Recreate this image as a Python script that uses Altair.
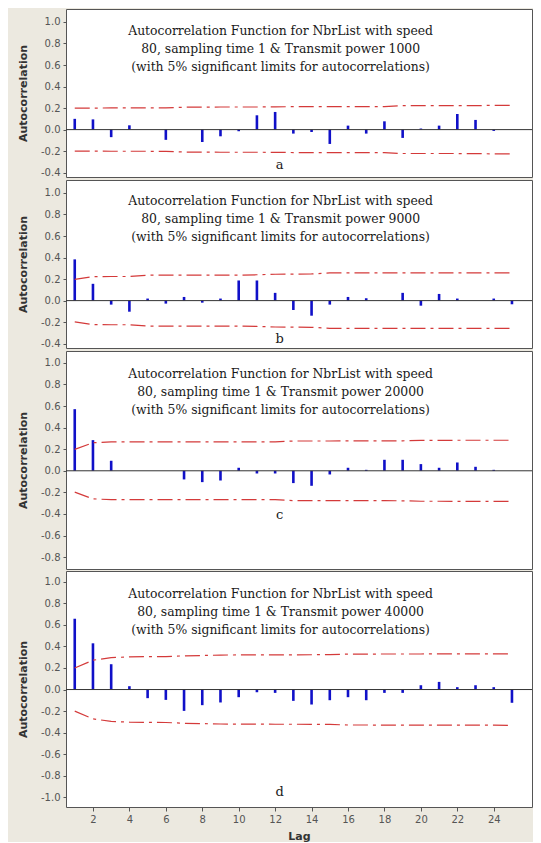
import altair as alt
import pandas as pd

# ---------------- data ----------------
lags = list(range(1, 26))

acf_a = [0.100, 0.095, -0.070, 0.040, 0.000, -0.095, 0.000, -0.115, -0.062, -0.015,
         0.133, 0.164, -0.037, -0.022, -0.133, 0.037, -0.037, 0.077, -0.077, 0.010,
         0.037, 0.145, 0.090, -0.012, 0.000]
acf_b = [0.383, 0.156, -0.037, -0.103, 0.019, -0.028, 0.034, -0.019, 0.019, 0.187,
         0.187, 0.072, -0.087, -0.140, -0.037, 0.034, 0.022, 0.000, 0.072, -0.047,
         0.062, 0.019, 0.000, 0.019, -0.034]
acf_c = [0.571, 0.284, 0.093, 0.000, 0.000, 0.000, -0.080, -0.105, -0.090, 0.028,
         -0.025, -0.025, -0.114, -0.139, -0.034, 0.028, 0.009, 0.102, 0.102, 0.062,
         0.028, 0.077, 0.037, 0.009, 0.000]
acf_d = [0.657, 0.429, 0.235, 0.031, -0.080, -0.096, -0.198, -0.145, -0.120, -0.071,
         -0.025, -0.031, -0.105, -0.139, -0.099, -0.071, -0.099, -0.031, -0.031, 0.040,
         0.071, 0.022, 0.040, 0.022, -0.123]

# 5% significance limits (upper; lower is the mirror image)
lim_a = [0.200, 0.200, 0.201, 0.201, 0.201, 0.202, 0.208, 0.209, 0.210, 0.210,
         0.210, 0.211, 0.213, 0.213, 0.213, 0.214, 0.214, 0.214, 0.222, 0.222,
         0.222, 0.222, 0.223, 0.225, 0.225]
lim_b = [0.198, 0.222, 0.224, 0.224, 0.236, 0.236, 0.236, 0.236, 0.236, 0.236,
         0.240, 0.245, 0.246, 0.248, 0.257, 0.257, 0.257, 0.257, 0.257, 0.258,
         0.258, 0.258, 0.258, 0.258, 0.258]
lim_c = [0.198, 0.260, 0.268, 0.268, 0.268, 0.268, 0.268, 0.268, 0.268, 0.268,
         0.268, 0.268, 0.276, 0.276, 0.276, 0.277, 0.277, 0.277, 0.278, 0.282,
         0.282, 0.283, 0.283, 0.283, 0.283]
lim_d = [0.200, 0.272, 0.296, 0.303, 0.305, 0.306, 0.313, 0.316, 0.320, 0.321,
         0.321, 0.322, 0.322, 0.323, 0.324, 0.329, 0.329, 0.330, 0.330, 0.330,
         0.331, 0.331, 0.331, 0.331, 0.332]

powers = ["1000", "9000", "20000", "40000"]
letters = ["a", "b", "c", "d"]

ticks_a = [-0.4, -0.2, 0.0, 0.2, 0.4, 0.6, 0.8, 1.0]
ticks_c = [-0.8, -0.6, -0.4, -0.2, 0.0, 0.2, 0.4, 0.6, 0.8, 1.0]
ticks_d = [-1.0, -0.8, -0.6, -0.4, -0.2, 0.0, 0.2, 0.4, 0.6, 0.8, 1.0]
x_ticks = [2, 4, 6, 8, 10, 12, 14, 16, 18, 20, 22, 24]

# ---------------- styling ----------------
SANS = "DejaVu Sans"
SERIF = "DejaVu Serif"
BLUE = "#1010c8"
RED = "#d43a3a"
BG = "#ece9e0"

panels = [
    dict(acf=acf_a, lim=lim_a, dom=[-0.44, 1.12], h=168, ticks=ticks_a, ty=0.92, ly=-0.33),
    dict(acf=acf_b, lim=lim_b, dom=[-0.44, 1.12], h=168, ticks=ticks_a, ty=0.925, ly=-0.36),
    dict(acf=acf_c, lim=lim_c, dom=[-0.91, 1.11], h=218, ticks=ticks_c, ty=0.90, ly=-0.41),
    dict(acf=acf_d, lim=lim_d, dom=[-1.09, 1.10], h=236, ticks=ticks_d, ty=0.885, ly=-0.95),
]


def make_panel(i, p, bottom):
    df = pd.DataFrame({
        "lag": lags,
        "acf": p["acf"],
        "upper": p["lim"],
        "lower": [-v for v in p["lim"]],
    })
    one = pd.DataFrame({"k": [0]})
    xs = alt.Scale(domain=[0.52, 26.1], nice=False, zero=False)
    ys = alt.Scale(domain=p["dom"], nice=False, zero=False)
    if bottom:
        x_axis = alt.Axis(values=x_ticks, title="Lag", tickSize=4, labelPadding=3,
                          titlePadding=6, titleFontWeight="bold", titleFontSize=11,
                          labelOverlap=False, labelFlush=False, tickCount=12)
    else:
        x_axis = None
    y_axis = alt.Axis(values=p["ticks"], tickCount=len(p["ticks"]),
                      title="Autocorrelation", format=".1f",
                      labelOverlap=False, labelFlush=False, labelBound=False,
                      labelExpr="replace(datum.label, '\u2212', '-')")

    X = alt.X("lag:Q", scale=xs, axis=x_axis)
    bars = alt.Chart(df).mark_rule(color=BLUE, strokeWidth=2.6).encode(
        x=X,
        y=alt.Y("acf:Q", scale=ys, axis=y_axis),
        y2=alt.Y2Datum(0),
    )
    zero = alt.Chart(one).mark_rule(color="#333333", strokeWidth=1).encode(
        y=alt.YDatum(0, axis=y_axis),
    )
    dash = [15, 5, 3, 5]
    upper = alt.Chart(df).mark_line(color=RED, strokeWidth=1.2, strokeDash=dash).encode(
        x=X,
        y=alt.Y("upper:Q", axis=y_axis),
    )
    lower = alt.Chart(df).mark_line(color=RED, strokeWidth=1.2, strokeDash=dash).encode(
        x=X,
        y=alt.Y("lower:Q", axis=y_axis),
    )
    title_lines = [
        "Autocorrelation Function for NbrList with speed",
        f"80, sampling time 1 & Transmit power {powers[i]}",
        "(with 5% significant limits for autocorrelations)",
    ]
    title = alt.Chart(one).mark_text(
        font=SERIF, fontSize=12.4, color="#1a1a1a", lineHeight=18,
        align="center", baseline="middle",
    ).encode(
        x=alt.XDatum(12.3, axis=x_axis),
        y=alt.YDatum(p["ty"], axis=y_axis),
        text=alt.value(title_lines),
    )
    letter = alt.Chart(one).mark_text(
        font=SERIF, fontSize=13, color="#1a1a1a", align="center", baseline="middle",
    ).encode(
        x=alt.XDatum(12.25, axis=x_axis),
        y=alt.YDatum(p["ly"], axis=y_axis),
        text=alt.value(letters[i]),
    )
    return alt.layer(bars, upper, lower, zero, title, letter).properties(
        width=466, height=p["h"]
    )


chart = alt.vconcat(
    *[make_panel(i, p, i == 3) for i, p in enumerate(panels)], spacing=0
).properties(
    background=BG,
    padding={"left": 8, "right": 0, "top": 0, "bottom": 0},
).configure_view(
    stroke="#555555", strokeWidth=1, fill="white"
).configure_axis(
    grid=False, domain=False, labelOverlap=False,
    labelFont=SANS, labelFontSize=10, labelColor="#555555",
    tickColor="#555555", tickSize=3, labelPadding=3,
    titleFont=SANS, titleFontSize=11, titleFontWeight="bold", titleColor="#333333",
    titlePadding=12,
)

chart.save("out.html", embed_options={"renderer": "svg", "actions": False})
